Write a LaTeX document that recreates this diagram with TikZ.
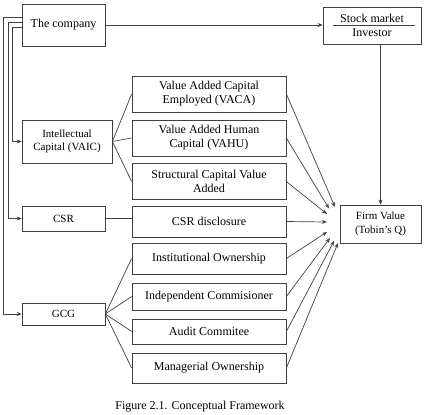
\documentclass[tikz,border=0pt]{standalone}
\usepackage{fontspec}
\setmainfont{Liberation Serif}
\usetikzlibrary{arrows.meta,positioning}

\begin{document}
\begin{tikzpicture}[x=1pt, y=-1pt, >={Stealth[length=5pt,width=4pt]},
    every node/.style={font=\fontsize{12}{14}\selectfont},
    box/.style={draw=black!75, line width=0.7pt, inner sep=2pt, align=center},
    link/.style={draw=black!75, line width=0.7pt}]
    \useasboundingbox (0,0) rectangle (438,414);

    % left column
    \node[box, minimum width=83pt, minimum height=42pt] (company) at (63.5,25) {The company};
    \node[box, minimum width=90pt, minimum height=43pt, font=\fontsize{11}{13.5}\selectfont] (ic) at (67,141.5) {Intellectual\\Capital (VAIC)};
    \node[box, minimum width=83pt, minimum height=25pt, font=\fontsize{11}{13}\selectfont] (csr) at (63.5,218.5) {CSR};
    \node[box, minimum width=83pt, minimum height=22pt, font=\fontsize{11}{13}\selectfont] (gcg) at (63.5,314) {GCG};

    % indicators
    \node[box, minimum width=154pt, minimum height=36pt] (vaca) at (209,94) {Value Added Capital\\Employed (VACA)};
    \node[box, minimum width=154pt, minimum height=36pt] (vahu) at (209,138) {Value Added Human\\Capital (VAHU)};
    \node[box, minimum width=154pt, minimum height=36pt] (scva) at (209,181.5) {Structural Capital Value\\Added};
    \node[box, minimum width=154pt, minimum height=31pt] (csrd) at (209,221.5) {CSR disclosure};
    \node[box, minimum width=154pt, minimum height=31pt] (inst) at (209,258.5) {Institutional Ownership};
    \node[box, minimum width=154pt, minimum height=27pt] (indep) at (209,296.5) {Independent Commisioner};
    \node[box, minimum width=154pt, minimum height=25pt] (audit) at (209,331.5) {Audit Commitee};
    \node[box, minimum width=154pt, minimum height=30pt] (manag) at (209,368) {Managerial Ownership};

    % right side
    \node[box, minimum width=98pt, minimum height=37pt] (stock) at (372,25.5) {Stock market\\Investor};
    \draw[link] ([xshift=10pt]stock.west) -- ([xshift=-6pt]stock.east);
    \node[box, minimum width=81pt, minimum height=38pt, font=\fontsize{11}{14}\selectfont] (firm) at (380.5,224) {Firm Value\\(Tobin’s Q)};

    \node (caption) at (200,407) {Figure 2.1. Conceptual Framework};

    % company links
    \draw[link,->] (company.east) -- (company.east -| stock.west);
    \draw[link,->] ([yshift=8pt]company.west) -- ++(-18,0) |- (gcg);
    \draw[link,->] ([yshift=3pt]company.west) -- ++(-13,0) |- (csr);
    \draw[link,->] ([yshift=-2pt]company.west) -- ++(-9,0) |- (ic);
    \draw[link,->] (firm.north |- stock.south) -- (firm.north);

    % fans
    \foreach \t in {vaca,vahu,scva}
      \draw[link] (ic.east) -- (\t.west);
    \draw[link] (csr.east) -- (csr.east -| csrd.west);
    \foreach \t in {inst,indep,audit,manag}
      \draw[link] (gcg.east) -- (\t.west);

    % arrow ends near firm value
    \coordinate (e1) at (335,207);
    \coordinate (e2) at (329,208.5);
    \coordinate (e3) at (327,214);
    \coordinate (e4) at (327,222);
    \coordinate (e5) at (327,232);
    \coordinate (e6) at (330,238);
    \coordinate (e7) at (334,241);
    \coordinate (e8) at (338,243);
    \foreach \s/\e in {vaca/e1,vahu/e2,scva/e3,csrd/e4,inst/e5,indep/e6,audit/e7,manag/e8}
      \draw[link,->] (\s.east) -- (\e);
\end{tikzpicture}
\end{document}
